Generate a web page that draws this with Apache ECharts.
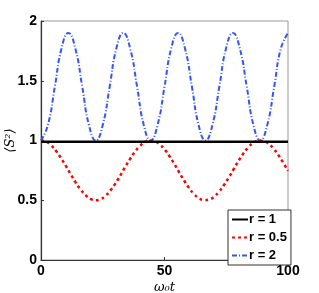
<!DOCTYPE html>
<html><head><meta charset="utf-8">
<script src="https://cdn.jsdelivr.net/npm/echarts@6/dist/echarts.min.js"></script>
<style>html,body{margin:0;padding:0;background:#fff}#c{width:319px;height:293px}</style>
</head><body><div id="c"></div>
<script>
const tValues = [0,2,4,6,8,10,12,14,16,18,20,22,24,26,28,30,32,34,36,38,40,42,44,46,48,50,52,54,56,58,60,62,64,66,68,70,72,74,76,78,80,82,84,86,88,90,92,94,96,98,100];
const r1Values = [0.99,0.99,0.99,0.99,0.99,0.99,0.99,0.99,0.99,0.99,0.99,0.99,0.99,0.99,0.99,0.99,0.99,0.99,0.99,0.99,0.99,0.99,0.99,0.99,0.99,0.99,0.99,0.99,0.99,0.99,0.99,0.99,0.99,0.99,0.99,0.99,0.99,0.99,0.99,0.99,0.99,0.99,0.99,0.99,0.99,0.99,0.99,0.99,0.99,0.99,0.99];
const r05Values = [1.00,0.990,0.961,0.915,0.856,0.789,0.718,0.650,0.590,0.543,0.512,0.500,0.508,0.535,0.580,0.637,0.704,0.775,0.843,0.904,0.953,0.986,1.000,0.994,0.968,0.926,0.869,0.803,0.732,0.663,0.601,0.551,0.517,0.501,0.505,0.528,0.570,0.625,0.690,0.760,0.830,0.893,0.945,0.981,0.998,0.996,0.975,0.935,0.881,0.816,0.746];
const r2Times = [0,2.8,5.6,8.3,11.1,13.9,16.7,19.4,22.2,25,27.8,30.5,33.3,36.1,38.9,41.6,44.4,47.2,50,52.7,55.5,58.3,61.1,63.8,66.6,69.4,72.2,74.9,77.7,80.5,83.3,86,88.8,91.6,94.4,97.1,100];
const r2Values = [1.00,1.13,1.45,1.77,1.90,1.77,1.45,1.13,1.00,1.13,1.45,1.77,1.90,1.77,1.45,1.13,1.00,1.13,1.45,1.77,1.90,1.77,1.45,1.13,1.00,1.13,1.45,1.77,1.90,1.77,1.45,1.13,1.00,1.13,1.45,1.77,1.90];
const seriesNames = ['r = 1','r = 0.5','r = 2'];
const xTicks = [0,50,100];
const yTicks = [0,0.5,1,1.5,2];

const pairs = (ts, v) => ts.map((t,i)=>[t,v[i]]);
const chart = echarts.init(document.getElementById('c'));
const tickFont = {fontFamily:'Liberation Sans',fontWeight:'bold',fontSize:14,color:'#000'};
chart.setOption({
  animation:false,
  grid:{left:41,right:31,top:21,bottom:33,show:true,borderColor:'#999',borderWidth:1,
    containLabel:false,outerBoundsMode:'none'},
  xAxis:{type:'value',min:0,max:100,interval:50,
    name:'ω₀t',nameLocation:'middle',nameGap:21,nameMoveOverlap:false,
    nameTextStyle:{fontFamily:'DejaVu Serif',fontStyle:'italic',fontSize:13,color:'#000'},
    axisLine:{lineStyle:{color:'#333',width:1.2}},
    axisTick:{inside:true,length:3,lineStyle:{color:'#333'}},
    axisLabel:Object.assign({margin:4,hideOverlap:false},tickFont),
    splitLine:{show:false}},
  yAxis:{type:'value',min:0,max:2,interval:0.5,
    name:'⟨S²⟩',nameLocation:'middle',nameGap:30,nameRotate:90,nameMoveOverlap:false,
    nameTextStyle:{fontFamily:'DejaVu Serif',fontStyle:'italic',fontSize:13,color:'#000',verticalAlign:'middle'},
    axisLine:{show:true,lineStyle:{color:'#333',width:1.2}},
    axisTick:{show:true,inside:true,length:3,lineStyle:{color:'#333'}},
    axisLabel:Object.assign({margin:4,hideOverlap:false},tickFont),
    splitLine:{show:false}},
  legend:{left:228,top:210,orient:'vertical',itemWidth:16,itemHeight:10,itemGap:5,
    padding:[3,4,3,3],borderColor:'#333',borderWidth:1,backgroundColor:'#fff',
    itemStyle:{opacity:0},
    textStyle:{fontFamily:'Liberation Sans',fontWeight:'bold',fontSize:13,color:'#000',padding:[0,0,0,-4]},
    data:seriesNames},
  series:[
    {name:seriesNames[0],type:'line',symbol:'none',data:pairs(tValues,r1Values),
     lineStyle:{color:'#000',width:2.5},itemStyle:{color:'#000'},z:3},
    {name:seriesNames[1],type:'line',symbol:'none',smooth:true,data:pairs(tValues,r05Values),
     lineStyle:{color:'#ff0000',width:2.5,type:[3,3]},itemStyle:{color:'#ff0000'},z:2},
    {name:seriesNames[2],type:'line',symbol:'none',smooth:true,data:pairs(r2Times,r2Values),
     lineStyle:{color:'#3355ff',width:2,type:[5,2,1,2]},itemStyle:{color:'#3355ff'},z:1}
  ]
});
</script></body></html>
